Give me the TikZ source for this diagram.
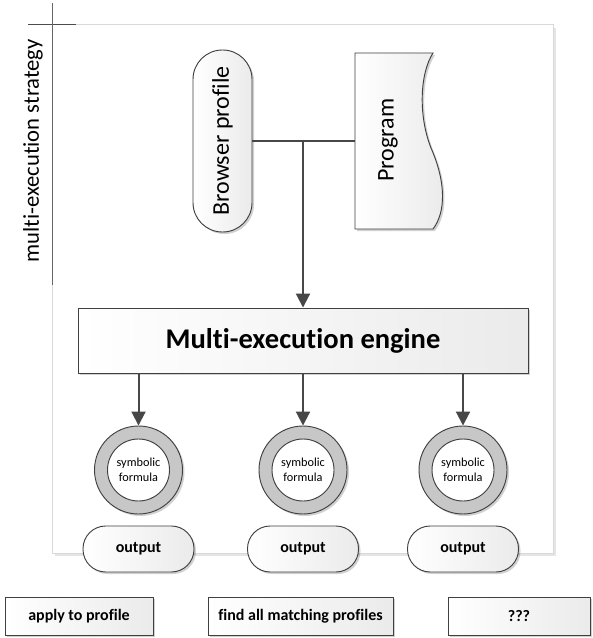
\documentclass[tikz,border=0pt]{standalone}
\usepackage{fontspec}
\setmainfont{Carlito}[Ligatures=NoCommon,RawFeature={-liga;-clig;-dlig}]
\usetikzlibrary{arrows.meta,shadows}

\begin{document}
\begin{tikzpicture}[x=0.75pt,y=-0.75pt,
  shapeline/.style={draw=black!75, line width=0.7pt},
  shadefill/.style={left color=white, right color=black!8},
  shd/.style={drop shadow={shadow xshift=1.5pt,shadow yshift=-1.5pt,fill=black,opacity=0.18}},
  conn/.style={draw=black!72, line width=1.5pt},
  arr/.style={conn, -{Triangle[length=10.5pt,width=10.5pt]}},
  stadium/.style={shapeline, shadefill, shd, rounded corners=#1, inner sep=0pt},
  ring/.style={circle, draw=black!75, line width=0.7pt, fill=black!22, minimum size=66pt, inner sep=0pt, shd},
  core/.style={circle, draw=black!75, line width=0.7pt, fill=white, minimum size=46.5pt, inner sep=0pt, align=center,
    font=\fontsize{9.2}{11.25}\selectfont},
  outbox/.style={stadium=17pt, minimum width=83.25pt, minimum height=34.5pt, font=\fontsize{12}{14}\selectfont\bfseries},
  tagbox/.style={shapeline, shadefill, shd, minimum height=28.5pt, inner sep=0pt, font=\fontsize{12}{14}\selectfont\bfseries}
]
\useasboundingbox (0,0) rectangle (592,638);

% swimlane
\fill[black!10] (55,28) rectangle (556,556);
\draw[black!15, fill=white, line width=0.75pt] (52,25) rectangle (553,553);
\draw[black!70, line width=0.75pt] (28,25) -- (76,25);
\draw[black!60, line width=0.75pt] (52,3) -- (52,285);
\node[rotate=90, font=\fontsize{17}{20}\selectfont, inner sep=0pt] (lane) at (33,151) {multi-execution strategy};

% browser profile
\node[stadium=22pt, minimum width=44.25pt, minimum height=136.5pt] (br) at (222.5,141) {};
\node[rotate=90, font=\fontsize{18}{22}\selectfont, inner sep=0pt] (brt) at (br) {Browser profile};

% program (document shape)
\node[minimum width=58.5pt, minimum height=132pt, inner sep=0pt] (prog) at (394,141) {};
\draw[shapeline, shadefill, shd] (355,53) -- (433,53) .. controls (420,73) and (418,115) .. (431,148)
   .. controls (446,182) and (446,212) .. (433,229) -- (355,229) -- cycle;
\node[rotate=90, font=\fontsize{18}{22}\selectfont, inner sep=0pt] (progt) at (388,140) {Program};

% engine
\node[shapeline, shadefill, shd, minimum width=337.5pt, minimum height=48.75pt, inner sep=0pt,
  font=\fontsize{21.4}{25}\selectfont\bfseries] (eng) at (303,340.5) {Multi-execution engine};

% connectors to engine
\coordinate (j) at (eng.north |- br.east);
\draw[conn] (br.east) -- (prog.west);
\draw[arr] (j) -- (eng.north);

% symbolic formulas
\foreach \i/\x in {1/138.5, 2/303, 3/463} {
  \node[ring] (r\i) at (\x,470) {};
  \node[core] (c\i) at (\x,470) {symbolic\\formula};
  \draw[arr] (eng.south -| r\i) -- (r\i.north);
  \node[outbox] (o\i) at (\x,549) {output};
}

% bottom tags
\node[tagbox, minimum width=111pt] (t1) at (79,616) {apply to profile};
\node[tagbox, minimum width=138.75pt] (t2) at (300.5,616) {find all matching profiles};
\node[tagbox, minimum width=106.5pt] (t3) at (519,616) {???};
\end{tikzpicture}
\end{document}
